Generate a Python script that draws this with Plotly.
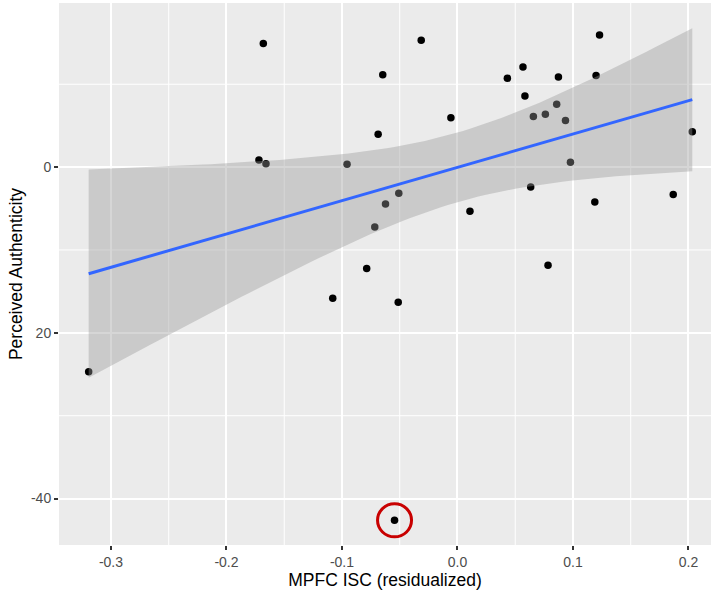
import numpy as np
import plotly.graph_objects as go

# Residualized MPFC inter-subject correlation vs. perceived authenticity
mpfc_isc = [-0.3193, -0.1681, -0.1719, -0.1658, -0.1080, -0.0956, -0.0786, -0.0716,
            -0.0687, -0.0647, -0.0623, -0.0545, -0.0508, -0.0513, -0.0314, -0.0057,
            0.0108, 0.0432, 0.0567, 0.0584, 0.0634, 0.0657, 0.0761, 0.0784,
            0.0859, 0.0874, 0.0935, 0.0978, 0.1189, 0.1200, 0.1230, 0.1868, 0.2033]
authenticity = [-24.68, 14.90, 0.87, 0.39, -15.83, 0.34, -12.25, -7.22,
                3.96, 11.13, -4.44, -42.62, -3.16, -16.31, 15.30, 5.94,
                -5.33, 10.71, 12.09, 8.59, -2.39, 6.09, 6.37, -11.85,
                7.58, 10.88, 5.61, 0.58, -4.20, 11.04, 15.95, -3.32, 4.25]

x_ticks = [-0.3, -0.2, -0.1, 0.0, 0.1, 0.2]
x_tick_labels = ["-0.3", "-0.2", "-0.1", "0.0", "0.1", "0.2"]
y_ticks = [0, -20, -40]
y_tick_labels = ["0", "20", "-40"]
x_minor = [-0.25, -0.15, -0.05, 0.05, 0.15]
y_minor = [10, -10, -30]

# index of the highlighted observation
flagged = 11

# ordinary least squares fit with a 95% confidence band
x = np.array(mpfc_isc)
y = np.array(authenticity)
n = len(x)
slope, intercept = np.polyfit(x, y, 1)
resid = y - (intercept + slope * x)
s = np.sqrt(np.sum(resid ** 2) / (n - 2))
sxx = np.sum((x - x.mean()) ** 2)
t_crit = 2.0395  # t(0.975, df=31)
xs = np.linspace(x.min(), x.max(), 80)
fit = intercept + slope * xs
se = s * np.sqrt(1.0 / n + (xs - x.mean()) ** 2 / sxx)
lo = fit - t_crit * se
hi = fit + t_crit * se

fig = go.Figure()

fig.add_trace(go.Scatter(
    x=mpfc_isc, y=authenticity, mode="markers",
    marker=dict(color="black", size=7.5),
    hoverinfo="skip", showlegend=False))

fig.add_trace(go.Scatter(
    x=np.concatenate([xs, xs[::-1]]), y=np.concatenate([hi, lo[::-1]]),
    mode="lines", fill="toself", fillcolor="rgba(153,153,153,0.4)",
    line=dict(width=0), hoverinfo="skip", showlegend=False))

fig.add_trace(go.Scatter(
    x=xs, y=fit, mode="lines", line=dict(color="#3366FF", width=3),
    hoverinfo="skip", showlegend=False))

# minor grid lines (ggplot style)
for v in x_minor:
    fig.add_shape(type="line", xref="x", yref="paper", x0=v, x1=v, y0=0, y1=1,
                  line=dict(color="white", width=1), layer="below")
for v in y_minor:
    fig.add_shape(type="line", xref="paper", yref="y", x0=0, x1=1, y0=v, y1=v,
                  line=dict(color="white", width=1), layer="below")

# red ring around the flagged observation
fig.add_shape(type="circle", xref="x", yref="y",
              xsizemode="pixel", ysizemode="pixel",
              xanchor=mpfc_isc[flagged], yanchor=authenticity[flagged],
              x0=-17, x1=17, y0=-16.5, y1=16.5,
              line=dict(color="#C80000", width=3))

tick_font = dict(family="Liberation Sans, Arial, sans-serif", size=14, color="#4D4D4D")
title_font = dict(family="Liberation Sans, Arial, sans-serif", size=17.5, color="black")

fig.update_layout(
    width=714, height=599,
    margin=dict(l=59, r=3, t=3, b=54),
    paper_bgcolor="white", plot_bgcolor="#EBEBEB",
    xaxis=dict(
        range=[-0.345, 0.2195], tickvals=x_ticks, ticktext=x_tick_labels,
        showgrid=True, gridcolor="white", gridwidth=2, zeroline=False,
        ticks="outside", ticklen=4, tickwidth=1.5, tickcolor="#333333",
        tickfont=tick_font, showline=False,
        title=dict(text="MPFC ISC (residualized)", font=title_font, standoff=3)),
    yaxis=dict(
        range=[-45.6, 19.8], tickvals=y_ticks, ticktext=y_tick_labels,
        showgrid=True, gridcolor="white", gridwidth=2, zeroline=False,
        ticks="outside", ticklen=4, tickwidth=1.5, tickcolor="#333333",
        tickfont=tick_font, showline=False,
        title=dict(text="Perceived Authenticity", font=title_font, standoff=3)),
)

fig.write_html("out.html")
